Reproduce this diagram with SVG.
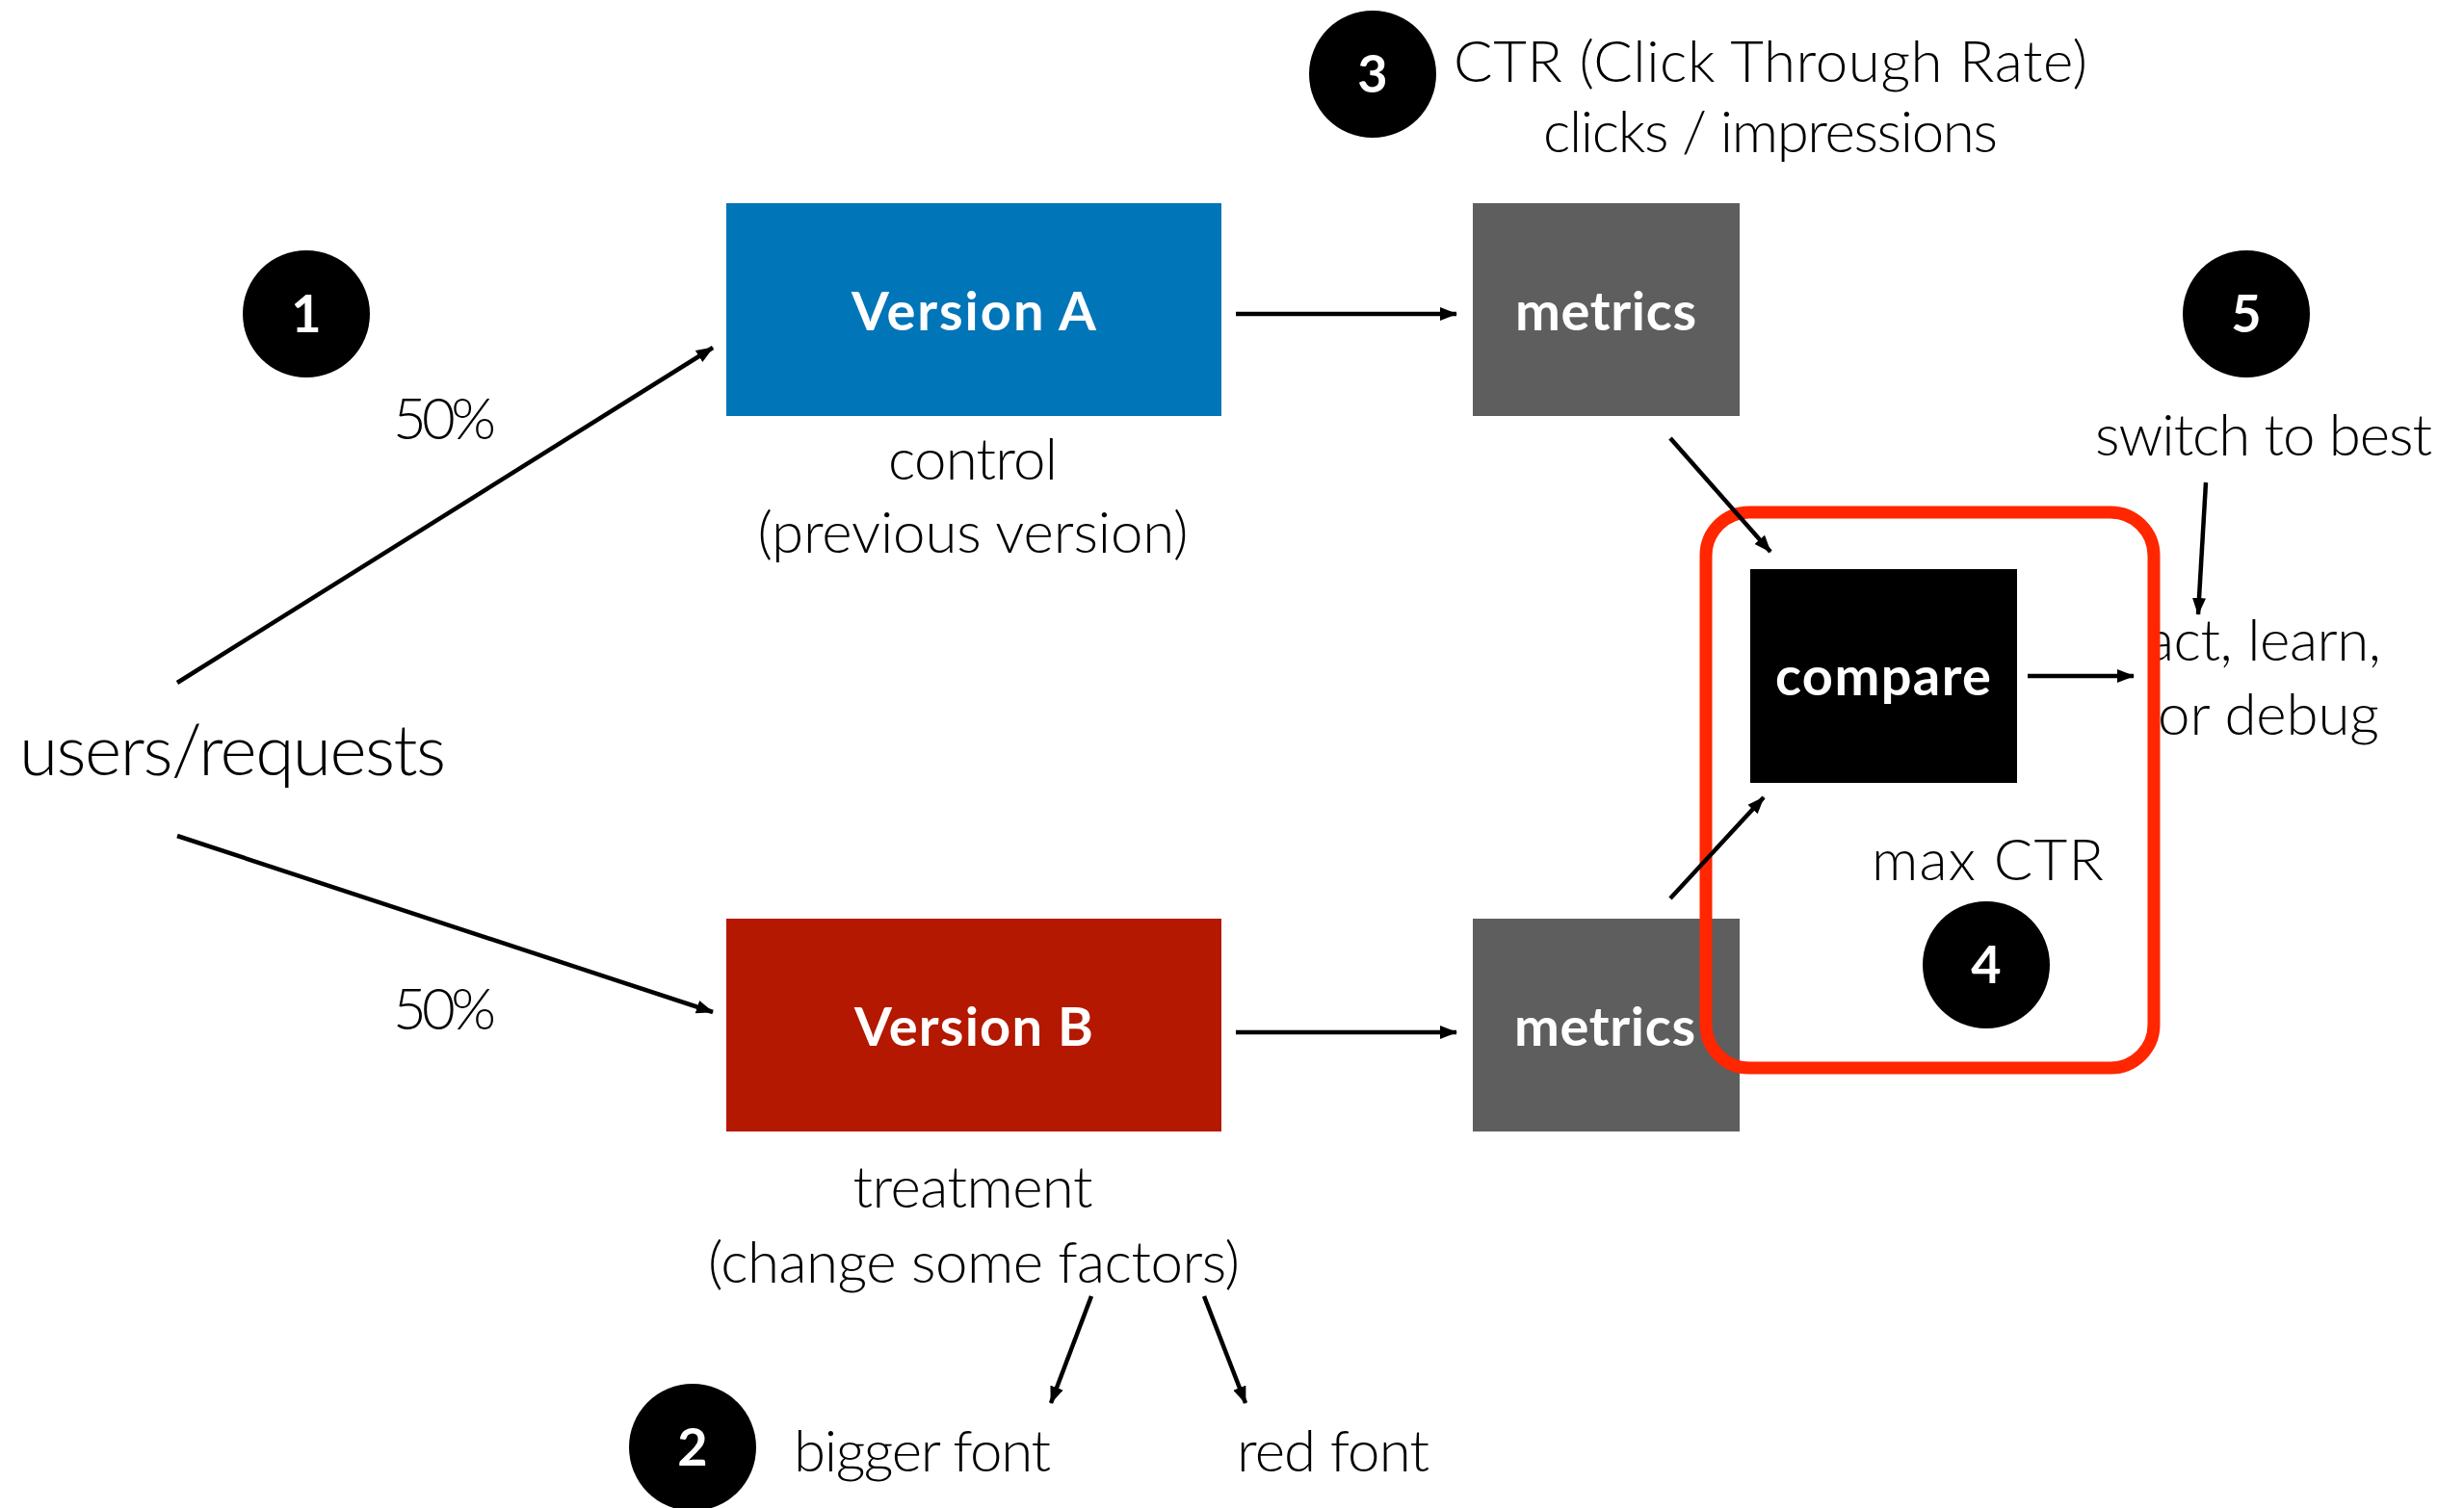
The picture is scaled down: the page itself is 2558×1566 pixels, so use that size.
<svg xmlns="http://www.w3.org/2000/svg" width="2558" height="1566" viewBox="0 0 2558 1566">
<defs>
<style>
.lbl{font-family:Lato,"Open Sans","Liberation Sans",sans-serif;font-weight:300;font-size:60px;fill:#000}
.big{font-size:73px}
.box{font-family:Lato,"Open Sans","Liberation Sans",sans-serif;font-weight:700;font-size:56px;fill:#fff;text-anchor:middle}
.num{font-family:Lato,"Open Sans","Liberation Sans",sans-serif;font-weight:700;font-size:54px;fill:#fff;text-anchor:middle}
.mid{text-anchor:middle}
.conn line{stroke:#000;stroke-width:4.5;marker-end:url(#ah)}
</style>
<marker id="ah" markerUnits="userSpaceOnUse" markerWidth="18" markerHeight="14" refX="17" refY="7" orient="auto">
<path d="M0,0 L18,7 L0,14 z" fill="#000"/>
</marker>
</defs>
<rect width="2558" height="1566" fill="#fff"/>

<g id="badge1"><circle cx="318" cy="326" r="66" fill="#000"/><text class="num" x="318" y="345">1</text></g>
<g id="badge2"><circle cx="719" cy="1503" r="66" fill="#000"/><text class="num" x="719" y="1522">2</text></g>
<g id="badge3"><circle cx="1425" cy="77" r="66" fill="#000"/><text class="num" x="1425" y="96">3</text></g>
<g id="badge4"><circle cx="2062" cy="1002" r="66" fill="#000"/><text class="num" x="2062" y="1021">4</text></g>
<g id="badge5"><circle cx="2332" cy="326" r="66" fill="#000"/><text class="num" x="2332" y="345">5</text></g>

<g id="users"><text class="lbl big" x="20" y="805" textLength="443">users/requests</text></g>
<g id="pctA"><text class="lbl" x="408" y="456" textLength="107">50%</text></g>
<g id="pctB"><text class="lbl" x="408" y="1069" textLength="107">50%</text></g>

<g id="versionA">
<rect x="754" y="211" width="514" height="221" fill="#0075B8"/>
<text class="box" x="1011" y="343" textLength="254">Version A</text>
<text class="lbl mid" x="1010" y="498" textLength="176">control</text>
<text class="lbl mid" x="1010" y="574" textLength="447">(previous version)</text>
</g>

<g id="versionB">
<rect x="754" y="954" width="514" height="221" fill="#B41800"/>
<text class="box" x="1011" y="1086" textLength="248">Version B</text>
<text class="lbl mid" x="1010" y="1254" textLength="249">treatment</text>
<text class="lbl mid" x="1011" y="1332" textLength="552">(change some factors)</text>
</g>

<g id="biggerFont"><text class="lbl" x="824" y="1528" textLength="267">bigger font</text></g>
<g id="redFont"><text class="lbl" x="1284" y="1528" textLength="200">red font</text></g>

<g id="metricsA">
<rect x="1529" y="211" width="277" height="221" fill="#5E5E5E"/>
<text class="box" x="1667" y="343" textLength="188">metrics</text>
</g>
<g id="metricsB">
<rect x="1529" y="954" width="277" height="221" fill="#5E5E5E"/>
<text class="box" x="1666" y="1086" textLength="188">metrics</text>
</g>

<g id="ctr">
<text class="lbl mid" x="1838" y="85" textLength="658">CTR (Click Through Rate)</text>
<text class="lbl mid" x="1838" y="158" textLength="472">clicks / impressions</text>
</g>

<g id="compare">
<rect x="1817" y="591" width="277" height="222" fill="#000"/>
<text class="box" x="1955" y="722" textLength="224">compare</text>
</g>

<g id="maxCTR"><text class="lbl" x="1943" y="914" textLength="241">max CTR</text></g>
<g id="switch"><text class="lbl" x="2175" y="473" textLength="350">switch to best</text></g>
<g id="act">
<text class="lbl" x="2228" y="686" textLength="244">act, learn,</text>
<text class="lbl" x="2240" y="763" textLength="230">or debug</text>
</g>

<g id="highlight"><rect x="1771" y="532" width="465" height="577" rx="45" ry="45" fill="none" stroke="#FF2600" stroke-width="13"/></g>

<g id="connectors" class="conn">
<line x1="184" y1="709" x2="740" y2="361"/>
<line x1="184" y1="868" x2="740" y2="1051"/>
<line x1="1283" y1="326" x2="1512" y2="326"/>
<line x1="1283" y1="1072" x2="1512" y2="1072"/>
<line x1="1734" y1="455" x2="1838" y2="573"/>
<line x1="1734" y1="933" x2="1831" y2="828"/>
<line x1="2105" y1="702" x2="2215" y2="702"/>
<line x1="2290" y1="501" x2="2282" y2="638"/>
<line x1="1133" y1="1346" x2="1091" y2="1457"/>
<line x1="1250" y1="1346" x2="1293" y2="1457"/>
</g>
</svg>
